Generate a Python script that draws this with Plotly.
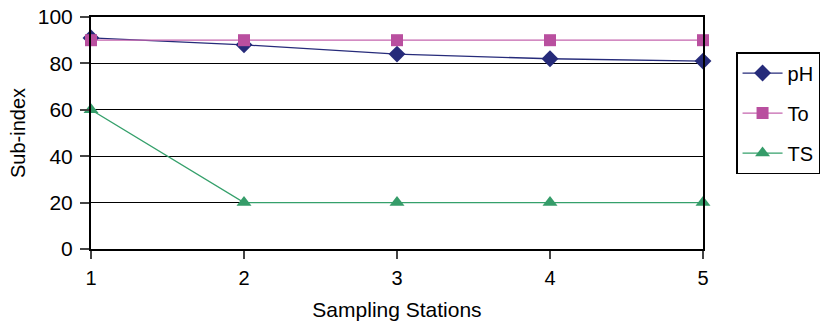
import plotly.graph_objects as go

stations = [1, 2, 3, 4, 5]
ph = [91, 88, 84, 82, 81]
to = [90, 90, 90, 90, 90]
ts = [60, 20, 20, 20, 20]

FONT = "Liberation Sans, Arial, sans-serif"

fig = go.Figure()
fig.add_trace(go.Scatter(x=stations, y=ph, name="pH", mode="lines+markers",
                         line=dict(color="#262B7A", width=1.3),
                         marker=dict(symbol="diamond", size=13, color="#262B7A"),
                         cliponaxis=False, legendgroup="a"))
fig.add_trace(go.Scatter(x=stations, y=to, name="To", mode="lines+markers",
                         line=dict(color="#C465AE", width=1.3),
                         marker=dict(symbol="square", size=12, color="#B94F9F"),
                         cliponaxis=False, legendgroup="b"))
fig.add_trace(go.Scatter(x=stations, y=ts, name="TS", mode="lines+markers",
                         line=dict(color="#35A06B", width=1.3),
                         marker=dict(symbol="triangle-up", size=13, color="#359C69"),
                         cliponaxis=False, legendgroup="c"))

fig.update_layout(
    width=834, height=325,
    margin=dict(l=91, r=131, t=17, b=76, autoexpand=False),
    plot_bgcolor="white", paper_bgcolor="white",
    font=dict(family=FONT, size=19, color="black"),
    showlegend=True,
    legend=dict(x=1.054, y=0.849, xanchor="left", yanchor="top",
                bordercolor="black", borderwidth=1.5, bgcolor="white",
                font=dict(size=20), tracegroupgap=11, itemwidth=40),
    xaxis=dict(range=[1, 5], tickvals=stations, ticks="outside", ticklen=8,
               tickwidth=2, tickcolor="#444", showgrid=False, zeroline=False,
               showline=True, linecolor="black", linewidth=2, mirror=True,
               automargin=False, ticklabelstandoff=2,
               title=dict(text="Sampling Stations", standoff=14, font=dict(size=21)),
               tickfont=dict(size=20)),
    yaxis=dict(range=[0, 100], tickvals=[0, 20, 40, 60, 80, 100], ticks="outside",
               ticklen=9, tickwidth=2, tickcolor="#444", showgrid=True,
               gridcolor="black", gridwidth=1, zeroline=False,
               showline=True, linecolor="black", linewidth=2, mirror=True,
               automargin=False, ticklabelstandoff=3,
               title=dict(text="Sub-index", standoff=7, font=dict(size=20)),
               tickfont=dict(size=21)),
)

fig.write_html("out.html")
